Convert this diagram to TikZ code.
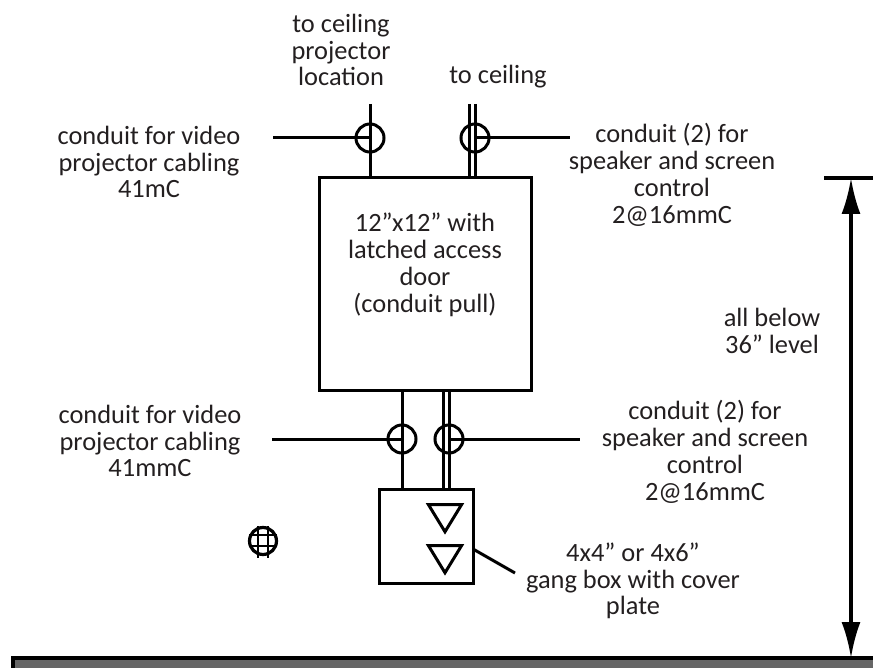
\documentclass[tikz,border=0pt]{standalone}
\usepackage{fontspec}
\setmainfont{Carlito}
\usepackage{xcolor}
\usetikzlibrary{arrows.meta, shapes.geometric}
\definecolor{floorgrey}{gray}{0.4}
\definecolor{inkgrey}{HTML}{231F20}
\tikzset{
  wire/.style={line width=3pt},
  boxnode/.style={draw, line width=3pt, inner sep=0pt, minimum size=#1},
  ringnode/.style={circle, draw, line width=3pt, inner sep=0pt, minimum size=28pt},
  downtri/.style={isosceles triangle, shape border rotate=-90, isosceles triangle stretches, draw, line width=3pt, inner sep=0pt, minimum width=33pt, minimum height=27pt},
  label/.style={align=center, text=inkgrey, font=\fontsize{26.4}{26.8}\selectfont, inner sep=0pt}
}
\begin{document}
\begin{tikzpicture}[x=1pt, y=-1pt]
\useasboundingbox (0,0) rectangle (873,668);
\clip (0,0) rectangle (873,668);
% boxes
\node [boxnode=212pt] (pullbox) at (425.5,284) {};
\node [boxnode=94pt] (gangbox) at (426,536) {};
\node [ringnode] (ringa) at (370,138) {};
\node [ringnode] (ringb) at (475,138) {};
\node [ringnode] (ringc) at (402,439) {};
\node [ringnode] (ringd) at (449,439) {};
\coordinate (topa) at (370,104);
\coordinate (topb) at (475,104);
\coordinate (topbb) at (469,104);
\coordinate (lefta) at (273,138);
\coordinate (rightb) at (570,138);
\coordinate (leftc) at (272,439);
\coordinate (rightd) at (580,439);
% conduits above
\draw [wire] (topa) -- (topa |- pullbox.north);
\draw [wire] (lefta) -- (ringa.center);
\draw [wire] (topb) -- (topb |- pullbox.north);
\draw [wire] (topbb) -- (topbb |- pullbox.north);
\draw [wire] (ringb.center) -- (rightb);
% conduits below
\draw [wire] (ringc |- pullbox.south) -- (ringc |- gangbox.north);
\draw [wire] (leftc) -- (ringc.center);
\draw [wire] (ringd |- pullbox.south) -- (ringd |- gangbox.north);
\draw [wire] ([xshift=-6pt]ringd |- pullbox.south) -- ([xshift=-6pt]ringd |- gangbox.north);
\draw [wire] (ringd.center) -- (rightd);
% gang box
\node [downtri] (tritop) at (445,514) {};
\node [downtri] (tribot) at (445,555) {};
\coordinate (leaderend) at (515,573);
\draw [wire] (473,549) -- (leaderend);
% outlet symbol
\node [circle, draw, line width=3.2pt, inner sep=0pt, minimum size=27pt] (outlet) at (263,541) {};
\draw [line width=2.8pt] (249,535) -- (277,535) (249,546) -- (277,546);
\draw [line width=2.8pt] (258,526) -- (258,558) (268,526) -- (268,558);
% dimension
\coordinate (dimtop) at (851,178);
\coordinate (dimbot) at (851,658);
\draw [line width=3.6pt] (824,178) -- (873,178);
\draw [{Latex[length=36pt, width=19pt]}-{Latex[length=36pt, width=19pt]}, line width=3.4pt] (dimtop) -- (dimbot);
% floor
\draw [fill=floorgrey, line width=3.6pt] (13,658) rectangle (890,690);
% text
\node [label] (txta) at (341,50) {to ceiling\\projector\\location};
\node [label] (txtb) at (498,77) {to ceiling};
\node [label] (txtc) at (149,162) {conduit for video\\projector cabling\\41mC};
\node [label] (txtd) at (672,175) {conduit (2) for\\speaker and screen\\control\\2@16mmC};
\node [label] (txte) at (425,265) {12”x12” with\\latched access\\door\\(conduit pull)};
\node [label] (txtf) at (772,331) {all below\\36” level};
\node [label] (txtg) at (150,441) {conduit for video\\projector cabling\\41mmC};
\node [label] (txth) at (705,452) {conduit (2) for\\speaker and screen\\control\\2@16mmC};
\node [label] (txti) at (633,581) {4x4” or 4x6”\\gang box with cover\\plate};
\end{tikzpicture}
\end{document}
